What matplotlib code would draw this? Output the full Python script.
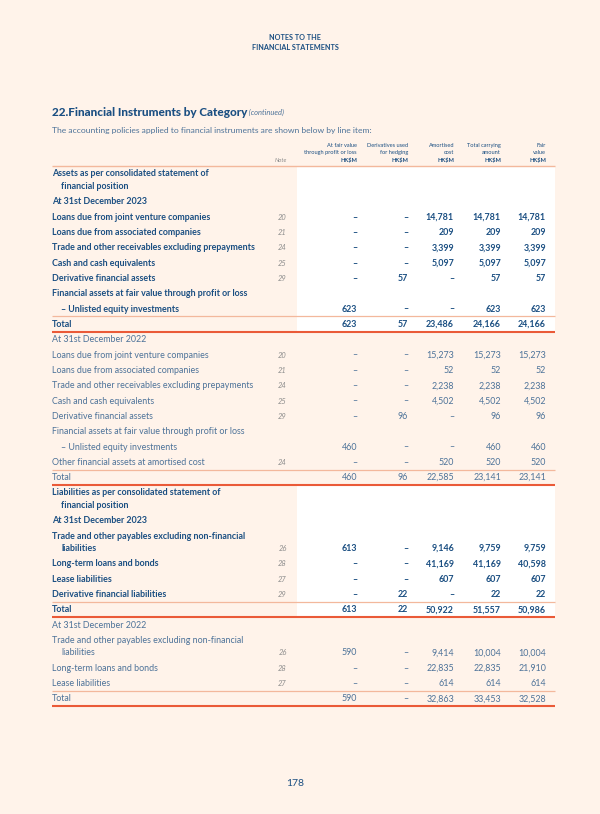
import matplotlib.pyplot as plt
from matplotlib.patches import Rectangle

plt.rcParams['font.family'] = ['Lato', 'DejaVu Sans']

BG = "#fff3ea"
NAVY = "#1b4f82"
BLUE = "#4d7399"
GREY = "#8c8c8c"
RULE_LIGHT = "#f3b89c"
RULE_DARK = "#ea5a38"

# column headings
col_heads = ["At fair value\nthrough profit or loss\nHK$M",
             "Derivatives used\nfor hedging\nHK$M",
             "Amortised\ncost\nHK$M",
             "Total carrying\namount\nHK$M",
             "Fair\nvalue\nHK$M"]

# assets, 31st December 2023
a23_labels = ["Loans due from joint venture companies",
              "Loans due from associated companies",
              "Trade and other receivables excluding prepayments",
              "Cash and cash equivalents",
              "Derivative financial assets",
              "Financial assets at fair value through profit or loss",
              "– Unlisted equity investments"]
a23_notes = ["20", "21", "24", "25", "29", "", ""]
a23_values = [[None, None, 14781, 14781, 14781],
              [None, None, 209, 209, 209],
              [None, None, 3399, 3399, 3399],
              [None, None, 5097, 5097, 5097],
              [None, 57, None, 57, 57],
              [],
              [623, None, None, 623, 623]]
a23_total = [623, 57, 23486, 24166, 24166]

# assets, 31st December 2022
a22_labels = ["Loans due from joint venture companies",
              "Loans due from associated companies",
              "Trade and other receivables excluding prepayments",
              "Cash and cash equivalents",
              "Derivative financial assets",
              "Financial assets at fair value through profit or loss",
              "– Unlisted equity investments",
              "Other financial assets at amortised cost"]
a22_notes = ["20", "21", "24", "25", "29", "", "", "24"]
a22_values = [[None, None, 15273, 15273, 15273],
              [None, None, 52, 52, 52],
              [None, None, 2238, 2238, 2238],
              [None, None, 4502, 4502, 4502],
              [None, 96, None, 96, 96],
              [],
              [460, None, None, 460, 460],
              [None, None, 520, 520, 520]]
a22_total = [460, 96, 22585, 23141, 23141]

# liabilities, 31st December 2023
l23_labels = ["Trade and other payables excluding non-financial\nliabilities",
              "Long-term loans and bonds",
              "Lease liabilities",
              "Derivative financial liabilities"]
l23_notes = ["26", "28", "27", "29"]
l23_values = [[613, None, 9146, 9759, 9759],
              [None, None, 41169, 41169, 40598],
              [None, None, 607, 607, 607],
              [None, 22, None, 22, 22]]
l23_total = [613, 22, 50922, 51557, 50986]

# liabilities, 31st December 2022
l22_labels = ["Trade and other payables excluding non-financial\nliabilities",
              "Long-term loans and bonds",
              "Lease liabilities"]
l22_notes = ["26", "28", "27"]
l22_values = [[590, None, 9414, 10004, 10004],
              [None, None, 22835, 22835, 21910],
              [None, None, 614, 614, 614]]
l22_total = [590, None, 32863, 33453, 32528]

blocks = [
    ("Assets as per consolidated statement of\nfinancial position", "At 31st December 2023",
     a23_labels, a23_notes, a23_values, a23_total, True),
    (None, "At 31st December 2022", a22_labels, a22_notes, a22_values, a22_total, False),
    ("Liabilities as per consolidated statement of\nfinancial position", "At 31st December 2023",
     l23_labels, l23_notes, l23_values, l23_total, True),
    (None, "At 31st December 2022", l22_labels, l22_notes, l22_values, l22_total, False),
]

# layout
X0, X_IND, X_END = 52, 61, 555
NOTE_X = 287
COL_X = [357, 408, 454, 501, 546]
WHITE_X = 297
ROW = 15.33
SUB = 12.4
FS = 6.4


def fmt(v):
    return "–" if v is None else f"{v:,}"


fig = plt.figure(figsize=(6, 8.14), dpi=100, facecolor=BG)
ax = fig.add_axes([0, 0, 1, 1])
ax.set_xlim(0, 600)
ax.set_ylim(814, 0)
ax.axis("off")
ax.set_facecolor(BG)

# page header
ax.text(295, 37, "NOTES TO THE", ha="center", va="center", fontsize=5.2,
        fontweight="bold", color=NAVY)
ax.text(295, 47, "FINANCIAL STATEMENTS", ha="center", va="center", fontsize=5.2,
        fontweight="bold", color=NAVY)

t = ax.text(X0, 112, "22.Financial Instruments by Category", ha="left", va="center",
            fontsize=8.5, fontweight="black", color=NAVY)
ax.annotate(" (continued)", xycoords=t, xy=(1, 0.45), va="center", ha="left",
            fontsize=5.4, style="italic", color=BLUE)
ax.text(X0, 131, "The accounting policies applied to financial instruments are shown below by line item:",
        ha="left", va="center", fontsize=6.1, color=BLUE)

# column headings
for x, h in zip(COL_X, col_heads):
    lines = h.split("\n")
    for i, ln in enumerate(lines):
        y = 160 - (len(lines) - 1 - i) * 7.2
        ax.text(x, y, ln, ha="right", va="center", fontsize=4.1, color=NAVY,
                fontweight="bold" if ln == "HK$M" else "normal")
ax.text(NOTE_X, 160, "Note", ha="right", va="center", fontsize=4.3, style="italic", color=GREY)

y = 174.0
ax.plot([X0, X_END], [y - 8, y - 8], color=RULE_LIGHT, lw=1.0, solid_capstyle="butt")
white_top = y - 8

for heading, date, labels, notes, values, total, bold in blocks:
    colr = NAVY if bold else BLUE
    wt = "bold" if bold else "normal"
    if bold:
        white_top = y - 8
    rows = []
    if heading:
        rows.append((heading, "", []))
    rows.append((date, "", []))
    rows += list(zip(labels, notes, values))
    for label, note, vals in rows:
        for i, ln in enumerate(label.split("\n")):
            if i > 0:
                y += SUB
            x = X_IND if (i > 0 or ln.startswith("–")) else X0
            ax.text(x, y, ln, ha="left", va="center", fontsize=FS, fontweight=wt,
                    color=colr, zorder=3)
        if note:
            ax.text(NOTE_X, y, note, ha="right", va="center", fontsize=5.4,
                    style="italic", color=GREY, zorder=3)
        for x, v in zip(COL_X, vals):
            ax.text(x, y, fmt(v), ha="right", va="center", fontsize=FS, fontweight=wt,
                    color=colr, zorder=3)
        y += ROW
    # total row
    ax.plot([X0, X_END], [y - 8, y - 8], color=RULE_LIGHT, lw=0.9, zorder=2,
            solid_capstyle="butt")
    ax.text(X0, y, "Total", ha="left", va="center", fontsize=FS, fontweight=wt,
            color=colr, zorder=3)
    for x, v in zip(COL_X, total):
        ax.text(x, y, fmt(v), ha="right", va="center", fontsize=FS, fontweight=wt,
                color=colr, zorder=3)
    ax.plot([X0, X_END], [y + 7.5, y + 7.5], color=RULE_DARK, lw=1.5, zorder=2,
            solid_capstyle="butt")
    if bold:
        ax.add_patch(Rectangle((WHITE_X, white_top), X_END - WHITE_X, y + 7.5 - white_top,
                               facecolor="white", edgecolor="none", zorder=1))
    y += ROW

ax.text(295, 784, "178", ha="center", va="center", fontsize=7.5, color=NAVY)

fig.savefig("out.png", dpi=100, facecolor=BG)
